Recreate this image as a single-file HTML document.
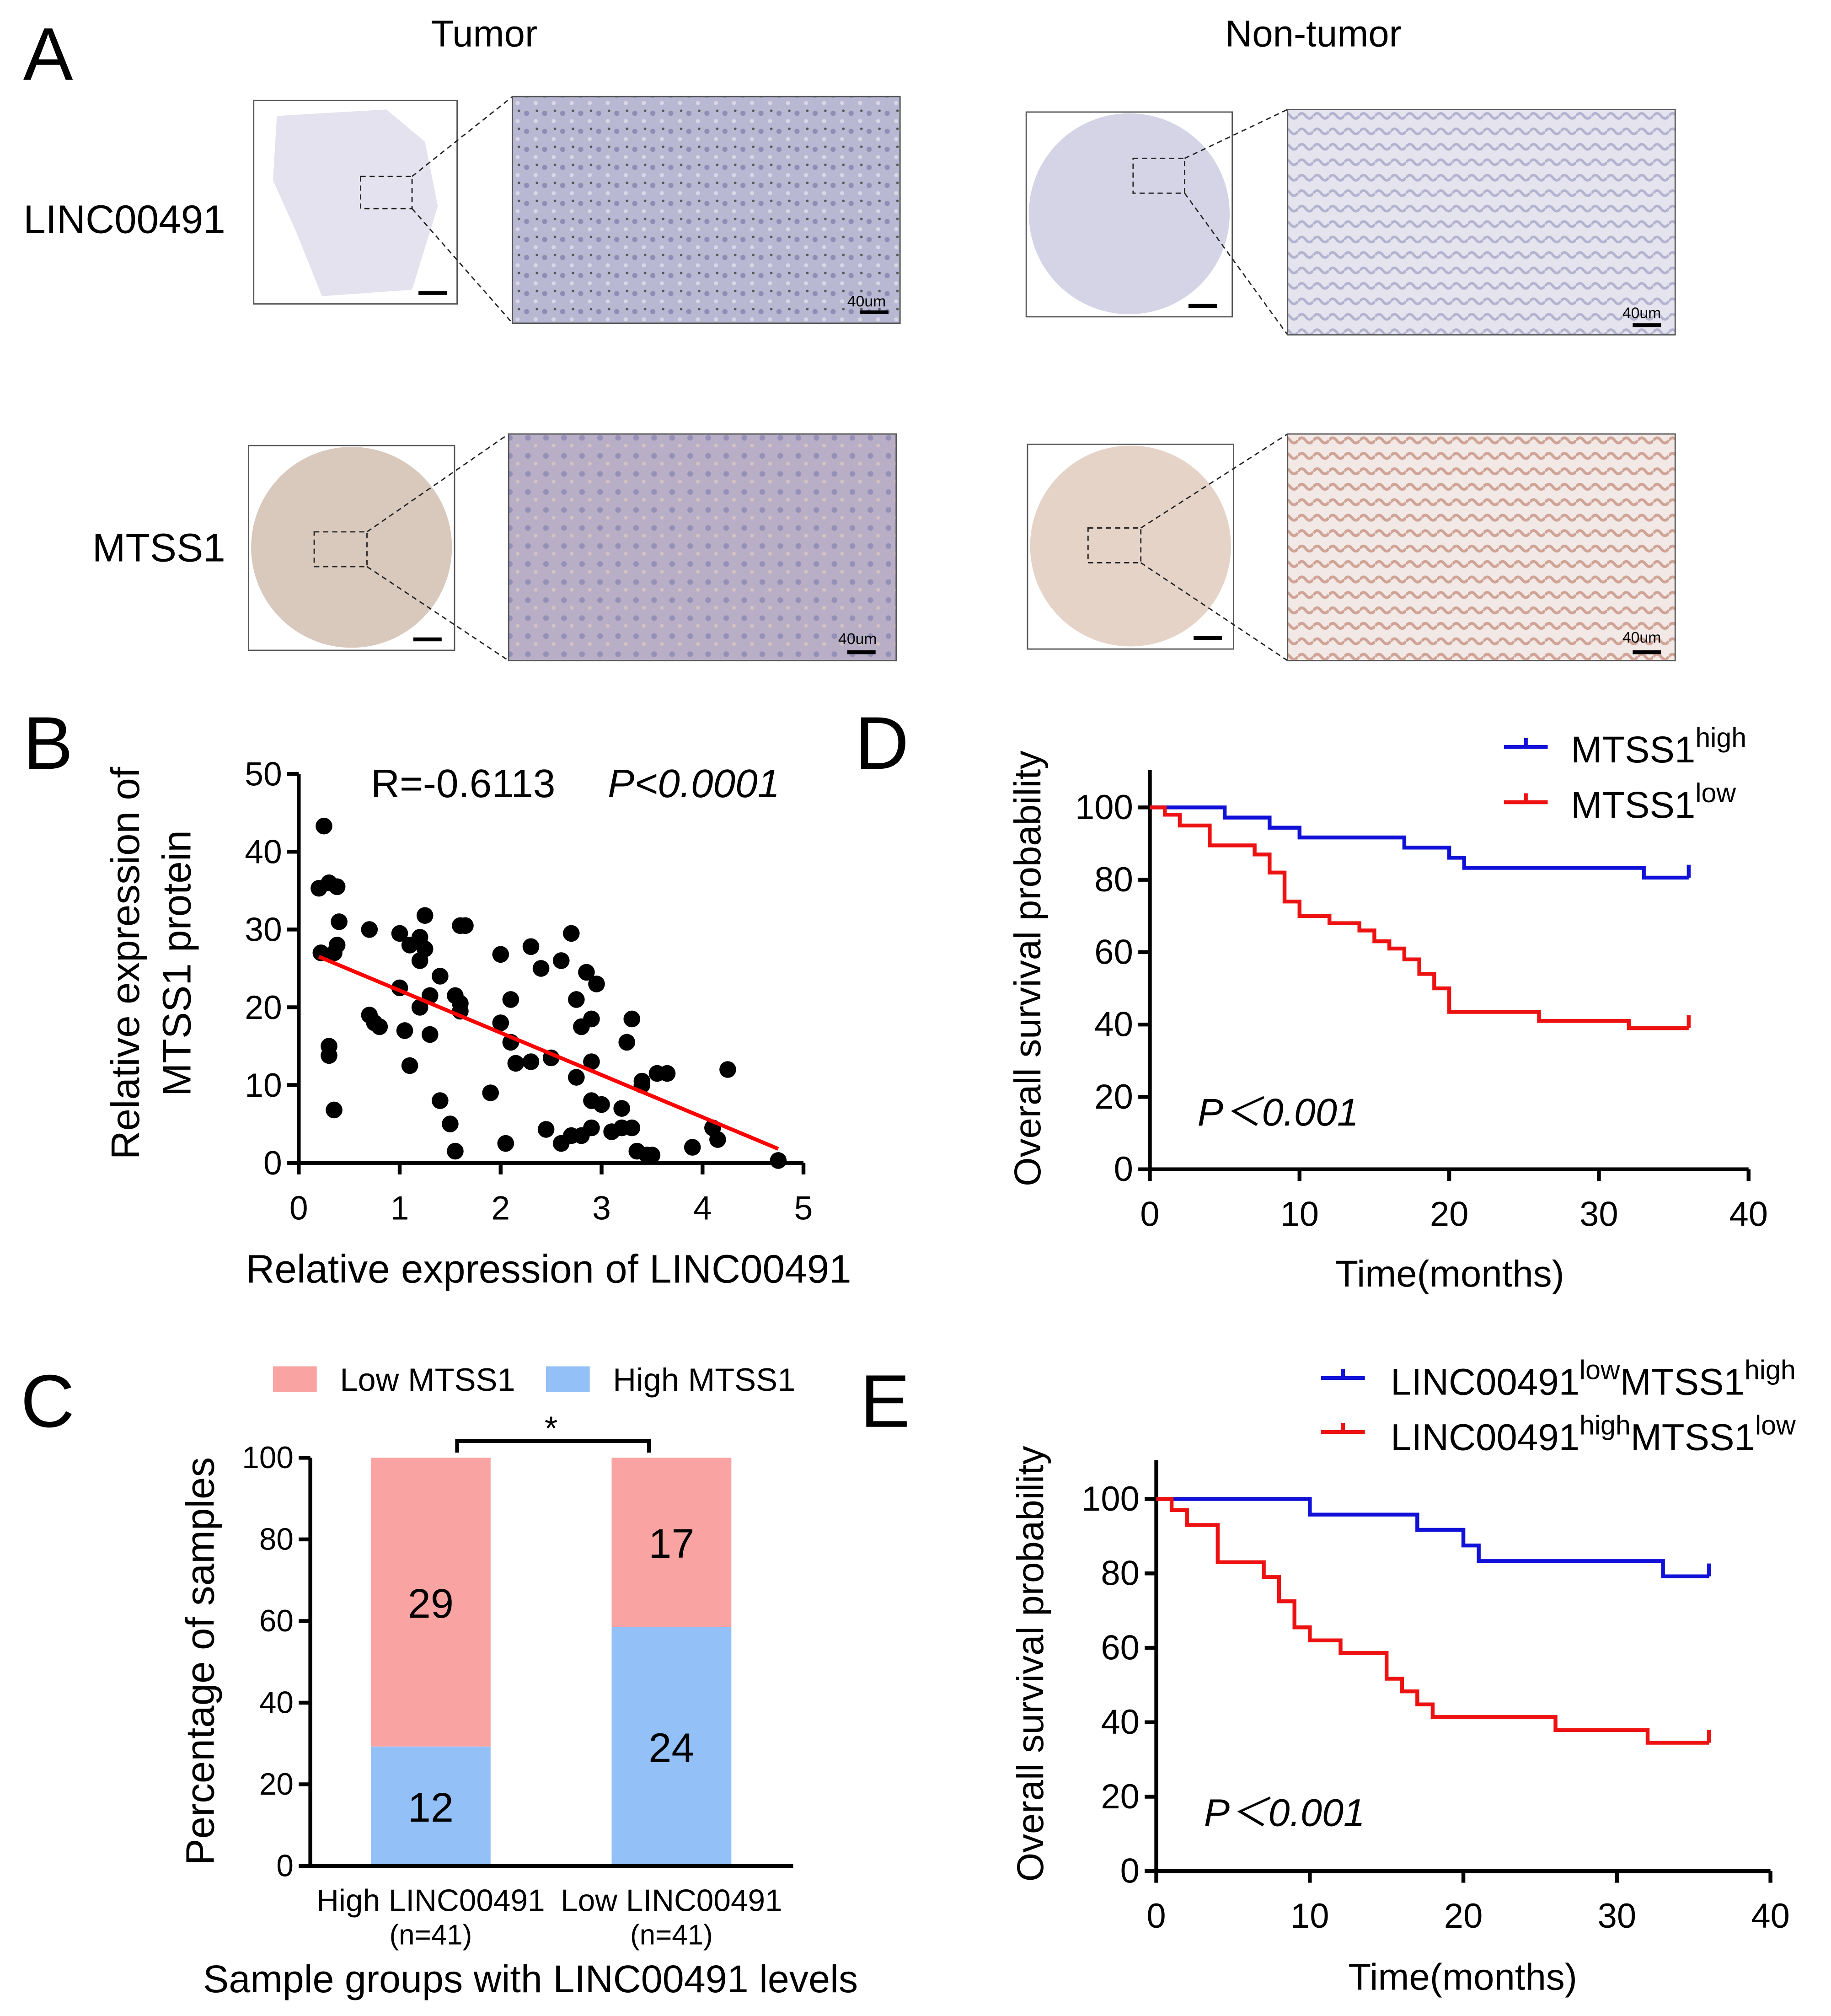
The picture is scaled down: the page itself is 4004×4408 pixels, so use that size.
<!DOCTYPE html>
<html><head><meta charset="utf-8"><style>
html,body{margin:0;padding:0;background:#fff}
svg{display:block;font-family:"Liberation Sans",Arial,sans-serif}
</style></head><body>
<svg id="fig" width="4004" height="4408" viewBox="0 0 1422 1565.5" xmlns="http://www.w3.org/2000/svg">
<defs>
<pattern id="pt1" width="14" height="14" patternUnits="userSpaceOnUse"><rect width="14" height="14" fill="#b9b8d2"/><circle cx="3" cy="4" r="2" fill="#8f8db5"/><circle cx="10" cy="10" r="1.6" fill="#d9d6e6"/><circle cx="11" cy="2" r="1" fill="#555"/></pattern>
<pattern id="pt2" width="12" height="12" patternUnits="userSpaceOnUse"><rect width="12" height="12" fill="#e4e3ee"/><path d="M0 6 Q3 2 6 6 T12 6" stroke="#b4b3cf" stroke-width="2" fill="none"/></pattern>
<pattern id="pt3" width="14" height="14" patternUnits="userSpaceOnUse"><rect width="14" height="14" fill="#b8aec6"/><circle cx="4" cy="4" r="2.2" fill="#9590b8"/><circle cx="10" cy="10" r="1.5" fill="#d2c2c0"/></pattern>
<pattern id="pt4" width="12" height="12" patternUnits="userSpaceOnUse"><rect width="12" height="12" fill="#f2e8e6"/><path d="M0 6 Q3 2 6 6 T12 6" stroke="#cfa496" stroke-width="2.2" fill="none"/></pattern>
</defs>
<g>
<text x="18" y="62" font-size="58">A</text>
<text x="376" y="36" font-size="29" text-anchor="middle">Tumor</text>
<text x="1020" y="36" font-size="29" text-anchor="middle">Non-tumor</text>
<text x="175" y="181" font-size="31" text-anchor="end">LINC00491</text>
<text x="175" y="436" font-size="31" text-anchor="end">MTSS1</text>
<rect x="197" y="78" width="158" height="158" fill="#fff" stroke="#555"/>
<path d="M215 90 L300 85 L330 110 L340 160 L320 225 L250 230 L230 180 L212 140 Z" fill="#e3e2ee"/>
<rect x="280" y="137" width="40" height="25" fill="none" stroke="#222" stroke-dasharray="4,3"/>
<rect x="325" y="226" width="22" height="3" fill="#000"/>
<line x1="320" y1="137" x2="398" y2="75" stroke="#222" stroke-dasharray="4,3"/>
<line x1="320" y1="162" x2="398" y2="251" stroke="#222" stroke-dasharray="4,3"/>
<rect x="398" y="75" width="301" height="176" fill="url(#pt1)" stroke="#555"/>
<text x="658" y="238" font-size="12">40um</text><rect x="668" y="241" width="22" height="3" fill="#000"/>
<rect x="797" y="87" width="160" height="159" fill="#fff" stroke="#555"/>
<circle cx="877" cy="166" r="78" fill="#d5d4e6"/>
<rect x="880" y="123" width="40" height="27" fill="none" stroke="#222" stroke-dasharray="4,3"/>
<rect x="923" y="236" width="22" height="3" fill="#000"/>
<line x1="920" y1="123" x2="1000" y2="85" stroke="#222" stroke-dasharray="4,3"/>
<line x1="920" y1="150" x2="1000" y2="260" stroke="#222" stroke-dasharray="4,3"/>
<rect x="1000" y="85" width="301" height="175" fill="url(#pt2)" stroke="#555"/>
<text x="1260" y="247" font-size="12">40um</text><rect x="1268" y="251" width="22" height="3" fill="#000"/>
<rect x="193" y="346" width="160" height="159" fill="#fff" stroke="#555"/>
<circle cx="273" cy="425" r="78" fill="#d9c9bd"/>
<rect x="244" y="413" width="41" height="27" fill="none" stroke="#222" stroke-dasharray="4,3"/>
<rect x="321" y="495" width="22" height="3" fill="#000"/>
<line x1="285" y1="413" x2="395" y2="337" stroke="#222" stroke-dasharray="4,3"/>
<line x1="285" y1="440" x2="395" y2="513" stroke="#222" stroke-dasharray="4,3"/>
<rect x="395" y="337" width="301" height="176" fill="url(#pt3)" stroke="#555"/>
<text x="651" y="500" font-size="12">40um</text><rect x="658" y="505" width="22" height="3" fill="#000"/>
<rect x="798" y="345" width="160" height="159" fill="#fff" stroke="#555"/>
<circle cx="878" cy="424" r="78" fill="#e6d3c8"/>
<rect x="845" y="410" width="41" height="27" fill="none" stroke="#222" stroke-dasharray="4,3"/>
<rect x="927" y="494" width="22" height="3" fill="#000"/>
<line x1="886" y1="410" x2="1000" y2="337" stroke="#222" stroke-dasharray="4,3"/>
<line x1="886" y1="437" x2="1000" y2="513" stroke="#222" stroke-dasharray="4,3"/>
<rect x="1000" y="337" width="301" height="176" fill="url(#pt4)" stroke="#555"/>
<text x="1260" y="499" font-size="12">40um</text><rect x="1268" y="505" width="22" height="3" fill="#000"/>
</g>
<g id="pb"></g>
<g id="pc"></g>
<g id="pd"></g>
<g id="pe"></g>
</svg>
<script>
const scatterX=[0.2,0.22,0.25,0.3,0.38,0.3,0.3,0.35,0.38,0.4,0.35,0.7,0.7,0.75,0.8,1.0,1.1,1.0,1.05,1.1,1.2,1.2,1.2,1.25,1.25,1.3,1.3,1.4,1.4,1.5,1.55,1.55,1.6,1.65,1.6,1.6,1.9,2.0,2.0,2.1,2.1,2.05,2.15,2.3,2.4,2.45,2.5,2.6,2.6,2.7,2.7,2.75,2.75,2.8,2.8,2.85,2.9,2.9,2.9,2.9,2.95,3.0,3.1,3.2,3.2,3.25,3.3,3.3,3.4,3.4,3.45,3.5,3.55,3.65,3.9,4.1,4.15,4.25,4.75,3.35,2.3];
const scatterY=[35.3,27,43.3,36,35.5,15,13.8,27,28,31,6.8,30,19,18,17.5,29.5,28,22.5,17,12.5,29,20,26,27.5,31.8,21.5,16.5,24,8,5,1.5,21.5,30.5,30.5,19.5,20.5,9,26.8,18,21,15.5,2.5,12.8,27.8,25,4.3,13.5,26,2.5,29.5,3.5,21,11,17.5,3.5,24.5,13,18.5,8,4.5,23,7.5,4,4.5,7,15.5,18.5,4.5,10.5,10,1,1,11.5,11.5,2,4.5,3,12,0.3,1.5,13];
const fitLine=[[0.2,26.5],[4.75,1.8]];
const bXTicks=[0,1,2,3,4,5];
const bYTicks=[0,10,20,30,40,50];
const cGroups=["High LINC00491","Low LINC00491"];
const cLow=[29,17];
const cHigh=[12,24];
const cYTicks=[0,20,40,60,80,100];
const dHighT=[0,5,8,10,17,20,21,33];
const dHighS=[100,97.2,94.4,91.7,88.9,86.1,83.3,80.6];
const dLowT=[0,1,2,4,7,8,9,10,12,14,15,16,17,18,19,20,26,32];
const dLowS=[100,98,95,89.5,87,82,74,70,68,66,63,61,58,54,50,43.5,41,39];
const eHighT=[0,10,17,20,21,33];
const eHighS=[100,95.8,91.7,87.5,83.3,79.2];
const eLowT=[0,1,2,4,7,8,9,10,12,15,16,17,18,26,32];
const eLowS=[100,97,93,83,79,72.5,65.5,62,58.6,51.7,48.3,44.8,41.4,37.9,34.5];
const kmXTicks=[0,10,20,30,40];
const kmYTicks=[0,20,40,60,80,100];
const tEnd=36;

const NS="http://www.w3.org/2000/svg";
function mk(parent,tag,attrs,text){const e=document.createElementNS(NS,tag);for(const k in attrs)e.setAttribute(k,attrs[k]);if(text!==undefined)e.textContent=text;parent.appendChild(e);return e;}

(function(){
const g=document.getElementById('pb');
const X0=232,X1=624,Y0=903,Y1=601;
const sx=v=>X0+(X1-X0)*v/5, sy=v=>Y0-(Y0-Y1)*v/50;
let t=mk(g,'text',{x:18,y:597,'font-size':58});

t.textContent='B';
let ax=mk(g,'path',{d:`M${X0} ${Y1} V${Y0} H${X1}`,stroke:'#000','stroke-width':3,fill:'none'});


bXTicks.forEach(v=>{mk(g,'line',{x1:sx(v),y1:Y0,x2:sx(v),y2:Y0+9,stroke:'#000','stroke-width':3});
 const l=mk(g,'text',{x:sx(v),y:Y0+44,'font-size':26,'text-anchor':'middle'},v);
 
 });
bYTicks.forEach(v=>{mk(g,'line',{x1:X0-9,y1:sy(v),x2:X0,y2:sy(v),stroke:'#000','stroke-width':3});
 const l=mk(g,'text',{x:X0-13,y:sy(v)+9,'font-size':26,'text-anchor':'end'},v);
 
 });
scatterX.forEach((x,i)=>{const c=mk(g,'circle',{cx:sx(x),cy:sy(scatterY[i]),r:6.5,fill:'#000'});
 
 });
const ln=mk(g,'line',{x1:sx(fitLine[0][0]),y1:sy(fitLine[0][1]),x2:sx(fitLine[1][0]),y2:sy(fitLine[1][1]),stroke:'#f00','stroke-width':3});


const r=mk(g,'text',{x:288,y:619,'font-size':31},'R=-0.6113');


const p=mk(g,'text',{x:472,y:619,'font-size':31,'font-style':'italic'},'P<0.0001');


const xt=mk(g,'text',{x:426,y:996,'font-size':31,'text-anchor':'middle'},'Relative expression of LINC00491');


const yt=mk(g,'text',{transform:'translate(108 748) rotate(-90)','font-size':31,'text-anchor':'middle'});


mk(yt,'tspan',{x:0,dy:0},'Relative expression of');mk(yt,'tspan',{x:0,dy:40},'MTSS1 protein');
})();

(function(){
const g=document.getElementById('pc');
const X0=241,Y0=1449,Y1=1132;
const sy=v=>Y0-(Y0-Y1)*v/100;
const barX=[288,475],bw=93;
let t=mk(g,'text',{x:16,y:1108,'font-size':58},'C');


let lr=mk(g,'rect',{x:212,y:1061,width:34,height:20,fill:'#f9a3a3'});
let lt=mk(g,'text',{x:264,y:1080,'font-size':25},'Low MTSS1');
let hr=mk(g,'rect',{x:424,y:1061,width:34,height:20,fill:'#93c0f7'});
let ht=mk(g,'text',{x:476,y:1080,'font-size':25},'High MTSS1');
cGroups.forEach((name,i)=>{
 const tot=cLow[i]+cHigh[i];const hp=100*cHigh[i]/tot;
 const b1=mk(g,'rect',{x:barX[i],y:sy(hp),width:bw,height:Y0-sy(hp),fill:'#93c0f7'});
 
 
 const b2=mk(g,'rect',{x:barX[i],y:sy(100),width:bw,height:sy(hp)-sy(100),fill:'#f9a3a3'});
 
 
 const l1=mk(g,'text',{x:barX[i]+bw/2,y:(sy(hp)+Y0)/2+12,'font-size':32,'text-anchor':'middle'},cHigh[i]);
 
 
 const l2=mk(g,'text',{x:barX[i]+bw/2,y:(sy(hp)+sy(100))/2+12,'font-size':32,'text-anchor':'middle'},cLow[i]);
 
 
 const gl=mk(g,'text',{x:barX[i]+bw/2,y:1484,'font-size':24,'text-anchor':'middle'},name);
 
 
 const nl=mk(g,'text',{x:barX[i]+bw/2,y:1510,'font-size':22,'text-anchor':'middle'},'(n='+tot+')');
 
 
});
let ax=mk(g,'path',{d:`M${X0} ${Y1} V${Y0} H616`,stroke:'#000','stroke-width':3,fill:'none'});


cYTicks.forEach(v=>{mk(g,'line',{x1:X0-9,y1:sy(v),x2:X0,y2:sy(v),stroke:'#000','stroke-width':3});
 const l=mk(g,'text',{x:X0-13,y:sy(v)+8,'font-size':24,'text-anchor':'end'},v);
 
 });
let br=mk(g,'path',{d:'M355 1128 V1119 H504 V1128',stroke:'#000','stroke-width':3,fill:'none'});


let st=mk(g,'text',{x:428,y:1118,'font-size':26,'text-anchor':'middle'},'*');


const yt=mk(g,'text',{transform:'translate(166 1290) rotate(-90)','font-size':31,'text-anchor':'middle'},'Percentage of samples');


const xt=mk(g,'text',{x:412,y:1547,'font-size':30,'text-anchor':'middle'},'Sample groups with LINC00491 levels');


})();

function km(g,X0,X1,Y0,Y100,ytop,T1,S1,T2,S2,opts){
 const sx=v=>X0+(X1-X0)*v/40, sy=v=>Y0-(Y0-Y100)*v/100;
 let ax=mk(g,'path',{d:`M${X0} ${ytop} V${Y0} H${X1}`,stroke:'#000','stroke-width':3,fill:'none'});
 
 
 kmXTicks.forEach(v=>{mk(g,'line',{x1:sx(v),y1:Y0,x2:sx(v),y2:Y0+9,stroke:'#000','stroke-width':3});
  const l=mk(g,'text',{x:sx(v),y:Y0+44,'font-size':27,'text-anchor':'middle'},v);
  
  });
 kmYTicks.forEach(v=>{mk(g,'line',{x1:X0-9,y1:sy(v),x2:X0,y2:sy(v),stroke:'#000','stroke-width':3});
  const l=mk(g,'text',{x:X0-13,y:sy(v)+9,'font-size':27,'text-anchor':'end'},v);
  
  });
 function curve(T,S,col,name){
  let d=`M${sx(T[0])} ${sy(S[0])}`;
  for(let i=1;i<T.length;i++){d+=` H${sx(T[i])} V${sy(S[i])}`;}
  d+=` H${sx(tEnd)}`;
  const p=mk(g,'path',{d,stroke:col,'stroke-width':3,fill:'none'});
  
  
  const last=S[S.length-1];
  mk(g,'line',{x1:sx(tEnd),y1:sy(last),x2:sx(tEnd),y2:sy(last)-10,stroke:col,'stroke-width':3});
 }
 curve(T1,S1,'#1010d8',opts.p+'-curve-high');
 curve(T2,S2,'#ee1111',opts.p+'-curve-low');
}
(function(){
const g=document.getElementById('pd');
let t=mk(g,'text',{x:664,y:597,'font-size':58},'D');
km(g,893,1358,908,627,598,dHighT,dHighS,dLowT,dLowS,{p:'d'});
mk(g,'path',{d:'M1168 580 H1202 M1185 573 V580',stroke:'#1010d8','stroke-width':3,fill:'none'});
mk(g,'path',{d:'M1168 623 H1202 M1185 616 V623',stroke:'#ee1111','stroke-width':3,fill:'none'});
let l1=mk(g,'text',{x:1220,y:592,'font-size':29});
mk(l1,'tspan',{},'MTSS1');mk(l1,'tspan',{dy:-12,'font-size':21},'high');
let l2=mk(g,'text',{x:1220,y:635,'font-size':29});
mk(l2,'tspan',{},'MTSS1');mk(l2,'tspan',{dy:-12,'font-size':21},'low');
let p=mk(g,'text',{x:930,y:874,'font-size':30,'font-style':'italic'},'P＜0.001');
let yt=mk(g,'text',{transform:'translate(808 752) rotate(-90)','font-size':29,'text-anchor':'middle'},'Overall survival probability');
let xt=mk(g,'text',{x:1126,y:999,'font-size':29,'text-anchor':'middle'},'Time(months)');
})();
(function(){
const g=document.getElementById('pe');
let t=mk(g,'text',{x:668,y:1108,'font-size':58},'E');
km(g,898,1375,1453,1164,1134,eHighT,eHighS,eLowT,eLowS,{p:'e'});
mk(g,'path',{d:'M1026 1070 H1060 M1043 1063 V1070',stroke:'#1010d8','stroke-width':3,fill:'none'});
mk(g,'path',{d:'M1026 1112 H1060 M1043 1105 V1112',stroke:'#ee1111','stroke-width':3,fill:'none'});
let l1=mk(g,'text',{x:1080,y:1083,'font-size':29});
mk(l1,'tspan',{},'LINC00491');mk(l1,'tspan',{dy:-12,'font-size':21},'low');mk(l1,'tspan',{dy:12},'MTSS1');mk(l1,'tspan',{dy:-12,'font-size':21},'high');
let l2=mk(g,'text',{x:1080,y:1126,'font-size':29});
mk(l2,'tspan',{},'LINC00491');mk(l2,'tspan',{dy:-12,'font-size':21},'high');mk(l2,'tspan',{dy:12},'MTSS1');mk(l2,'tspan',{dy:-12,'font-size':21},'low');
let p=mk(g,'text',{x:935,y:1418,'font-size':30,'font-style':'italic'},'P＜0.001');
let yt=mk(g,'text',{transform:'translate(810 1292) rotate(-90)','font-size':29,'text-anchor':'middle'},'Overall survival probability');
let xt=mk(g,'text',{x:1136,y:1545,'font-size':29,'text-anchor':'middle'},'Time(months)');
})();
</script>
</body></html>
